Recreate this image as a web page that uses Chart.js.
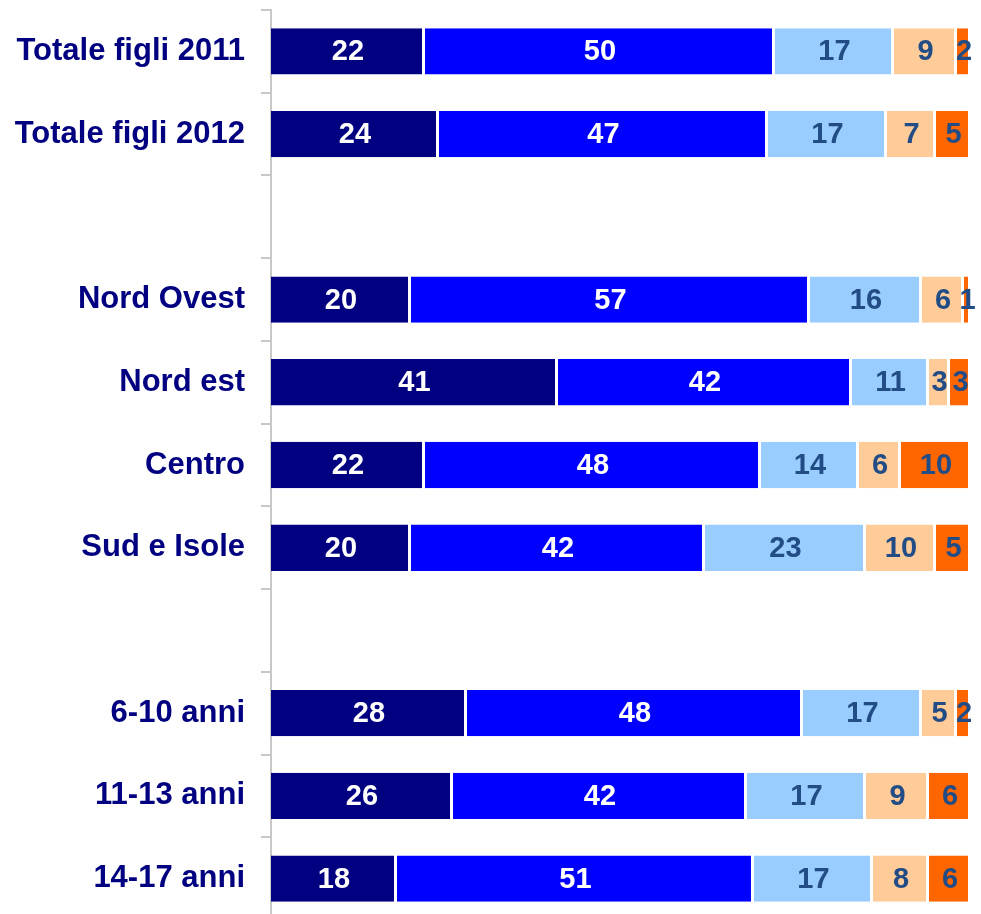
<!DOCTYPE html>
<html>
<head>
<meta charset="utf-8">
<script src="https://cdn.jsdelivr.net/npm/chart.js@4/dist/chart.umd.min.js"></script>
<style>
  html, body { margin: 0; padding: 0; background: #fff; overflow: hidden; }
</style>
</head>
<body>
<canvas id="barChart" width="981" height="920"></canvas>
<script>
// categories (empty strings are the spacer rows)
var categories = ['Totale figli 2011', 'Totale figli 2012', '', 'Nord Ovest', 'Nord est', 'Centro', 'Sud e Isole', '', '6-10 anni', '11-13 anni', '14-17 anni'];
var serie1 = [22, 24, null, 20, 41, 22, 20, null, 28, 26, 18];
var serie2 = [50, 47, null, 57, 42, 48, 42, null, 48, 42, 51];
var serie3 = [17, 17, null, 16, 11, 14, 23, null, 17, 17, 17];
var serie4 = [9, 7, null, 6, 3, 6, 10, null, 5, 9, 8];
var serie5 = [2, 5, null, 1, 3, 10, 5, null, 2, 6, 6];

var colors = ['#000080', '#0000FF', '#99CCFF', '#FFCC99', '#FF6600'];
var labelColors = ['#FFFFFF', '#FFFFFF', '#214C85', '#214C85', '#214C85'];

// draws the value inside each segment
var valueLabels = {
  id: 'valueLabels',
  afterDatasetsDraw: function(chart) {
    var ctx = chart.ctx;
    ctx.save();
    ctx.font = 'bold 29px "Liberation Sans", Arial, sans-serif';
    ctx.textAlign = 'center';
    ctx.textBaseline = 'middle';
    chart.data.datasets.forEach(function(ds, i) {
      var meta = chart.getDatasetMeta(i);
      meta.data.forEach(function(bar, j) {
        var v = ds.data[j];
        if (v === null || v === undefined) return;
        ctx.fillStyle = labelColors[i];
        ctx.fillText(String(v), (bar.x + bar.base) / 2, bar.y + 1);
      });
    });
    ctx.restore();
  }
};

var ctx = document.getElementById('barChart');
var myBarChart = new Chart(ctx, {
  type: 'bar',
  data: {
    labels: categories,
    datasets: [
      { label: 'Serie 1', data: serie1, backgroundColor: colors[0] },
      { label: 'Serie 2', data: serie2, backgroundColor: colors[1] },
      { label: 'Serie 3', data: serie3, backgroundColor: colors[2] },
      { label: 'Serie 4', data: serie4, backgroundColor: colors[3] },
      { label: 'Serie 5', data: serie5, backgroundColor: colors[4] }
    ]
  },
  options: {
    indexAxis: 'y',
    responsive: false,
    animation: false,
    devicePixelRatio: 1,
    layout: { padding: { top: 10, right: 10, bottom: 0, left: 0 } },
    datasets: {
      bar: {
        categoryPercentage: 1,
        barPercentage: 0.56,
        borderColor: '#FFFFFF',
        borderWidth: { left: 0, right: 3, top: 0, bottom: 0 },
        borderSkipped: 'start'
      }
    },
    plugins: {
      legend: { display: false },
      tooltip: { enabled: false }
    },
    scales: {
      x: {
        stacked: true,
        min: 0,
        max: 100,
        display: false
      },
      y: {
        stacked: true,
        afterFit: function(scale) {
          scale.width = 271;
          scale.paddingTop = 0;
          scale.paddingBottom = 0;
        },
        border: { display: true, color: '#C8C8C8', width: 2 },
        grid: {
          display: true,
          drawOnChartArea: false,
          drawTicks: true,
          tickLength: 10,
          color: '#C8C8C8',
          lineWidth: 2,
          offset: true
        },
        ticks: {
          color: '#000080',
          padding: 16,
          font: { family: '"Liberation Sans", Arial, sans-serif', size: 31, weight: 'bold' }
        }
      }
    }
  },
  plugins: [valueLabels]
});
</script>
</body>
</html>
